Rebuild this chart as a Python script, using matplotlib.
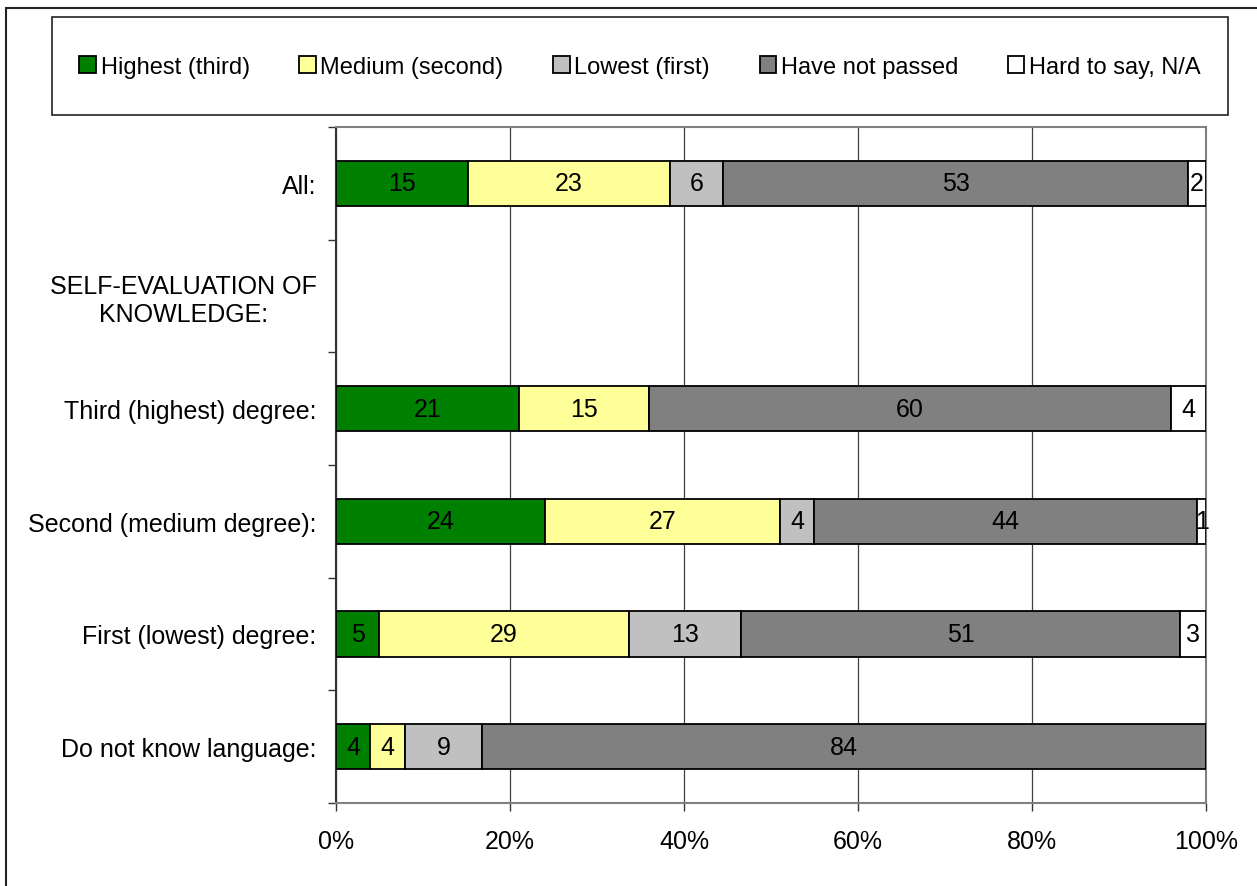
import numpy as np
import matplotlib.pyplot as plt
from matplotlib.patches import Rectangle

plt.rcParams['font.family'] = ['Liberation Sans', 'DejaVu Sans']

# Datos del gráfico
categorias = ["All:", "SELF-EVALUATION OF\nKNOWLEDGE:", "Third (highest) degree:",
              "Second (medium degree):", "First (lowest) degree:", "Do not know language:"]
series = ["Highest (third)", "Medium (second)", "Lowest (first)", "Have not passed", "Hard to say, N/A"]
colores = ["#008000", "#FFFF99", "#C0C0C0", "#808080", "#FFFFFF"]

highest = [15, 0, 21, 24, 5, 4]
medium = [23, 0, 15, 27, 29, 4]
lowest = [6, 0, 0, 4, 13, 9]
not_passed = [53, 0, 60, 44, 51, 84]
hard_to_say = [2, 0, 4, 1, 3, 0]

valores = np.array([highest, medium, lowest, not_passed, hard_to_say], dtype=float)
totales = valores.sum(axis=0)
con_datos = totales > 0
porcentajes = valores[:, con_datos] / totales[con_datos] * 100

fig = plt.figure(figsize=(12.57, 8.87), dpi=100)
ax = fig.add_axes([0.2673, 0.0936, 0.6921, 0.7621])

y = np.arange(len(categorias))
y_barras = y[con_datos]
izq = np.zeros(len(y_barras))
for i in range(len(series)):
    barras = ax.barh(y_barras, porcentajes[i], left=izq, height=0.4, color=colores[i],
                     edgecolor='black', linewidth=1.3, label=series[i], zorder=3)
    etiquetas = [f"{int(v)}" if v > 0 else "" for v in valores[i][con_datos]]
    ax.bar_label(barras, labels=etiquetas, label_type='center', fontsize=18, color='black')
    izq += porcentajes[i]

ax.set_xlim(0, 100)
ax.set_ylim(len(categorias) - 0.5, -0.5)
ax.set_xticks(np.arange(0, 101, 20))
ax.set_xticklabels([f"{v}%" for v in range(0, 101, 20)], fontsize=18)
ax.set_yticks(y)
ax.set_yticklabels(categorias, fontsize=18, multialignment='center')
ax.set_yticks(np.arange(-0.5, len(categorias), 1), minor=True)
ax.tick_params(axis='y', which='major', length=0, pad=14)
ax.tick_params(axis='y', which='minor', length=6, width=1, color='#333333')
ax.tick_params(axis='x', length=6, width=1, pad=13, color='#333333')

ax.grid(axis='x', color='#404040', linewidth=0.9, zorder=0)
for lado in ['top', 'right', 'bottom']:
    ax.spines[lado].set_color('#808080')
    ax.spines[lado].set_linewidth(1.5)
ax.spines['left'].set_color('#333333')
ax.spines['left'].set_linewidth(1.5)

# Marco exterior y caja de la leyenda
fig.patches.append(Rectangle((6 / 1257, -0.05), 1.1, 1.05 - 9 / 887, transform=fig.transFigure,
                             fill=False, edgecolor='#222222', linewidth=1.5))
fig.patches.append(Rectangle((52 / 1257, 1 - 116 / 887), (1228 - 52) / 1257, 98 / 887,
                             transform=fig.transFigure, fill=False, edgecolor='#222222', linewidth=1.2))

fig.legend(loc='center', bbox_to_anchor=(640 / 1257, 1 - 68 / 887), ncol=5, frameon=False,
           fontsize=17, handlelength=0.7, handleheight=0.7, handletextpad=0.2,
           columnspacing=2.1)

fig.savefig("out.png", dpi=100)
